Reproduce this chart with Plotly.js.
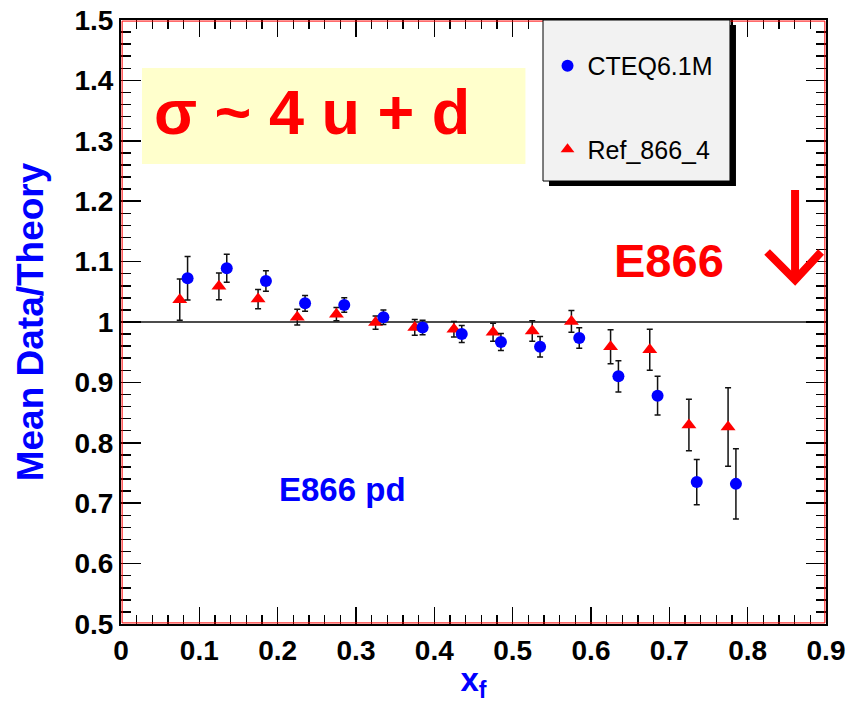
<!DOCTYPE html>
<html>
<head>
<meta charset="utf-8">
<script src="https://cdn.plot.ly/plotly-3.0.1.min.js"></script>
<style>
  html, body { margin: 0; padding: 0; background: #fff; }
  #chart { width: 846px; height: 704px; }
</style>
</head>
<body>
<div id="chart"></div>
<script>
// Mean Data/Theory ratio versus x_f for E866 pd, two PDF sets
const xCteq = [0.085, 0.135, 0.185, 0.235, 0.285, 0.335, 0.385, 0.435, 0.485, 0.535, 0.585, 0.635, 0.685, 0.735, 0.785];
const yCteq = [1.0725, 1.089, 1.068, 1.031, 1.028, 1.008, 0.991, 0.980, 0.967, 0.959, 0.9735, 0.910, 0.878, 0.735, 0.732];
const eCteq = [0.036, 0.023, 0.017, 0.013, 0.012, 0.012, 0.012, 0.014, 0.014, 0.017, 0.017, 0.026, 0.032, 0.0375, 0.058];

const xRef = [0.075, 0.125, 0.175, 0.225, 0.275, 0.325, 0.375, 0.425, 0.475, 0.525, 0.575, 0.625, 0.675, 0.725, 0.775];
const yRef = [1.037, 1.059, 1.038, 1.008, 1.013, 0.999, 0.991, 0.988, 0.983, 0.985, 1.001, 0.959, 0.954, 0.8295, 0.826];
const eRef = [0.034, 0.022, 0.016, 0.013, 0.011, 0.011, 0.013, 0.013, 0.015, 0.017, 0.018, 0.028, 0.034, 0.0425, 0.065];

const seriesNames = ['CTEQ6.1M', 'Ref_866_4'];
const xTitle = 'x<sub>f</sub>';
const yTitle = 'Mean Data/Theory';

const FONT = 'Liberation Sans, Arial, Helvetica, sans-serif';

const errStyle = { type: 'data', visible: true, color: '#111', thickness: 1.5, width: 3 };

const traces = [
  {
    x: xRef, y: yRef, name: seriesNames[1], legendgroup: 'b', legendrank: 2,
    type: 'scatter', mode: 'markers',
    marker: { symbol: 'triangle-up', size: 13, color: '#ff0000' },
    error_y: Object.assign({ array: eRef }, errStyle)
  },
  {
    x: xCteq, y: yCteq, name: seriesNames[0], legendgroup: 'a', legendrank: 1,
    type: 'scatter', mode: 'markers',
    marker: { symbol: 'circle', size: 12, color: '#0000ff' },
    error_y: Object.assign({ array: eCteq }, errStyle)
  }
];

const axisCommon = {
  ticks: 'inside', tickwidth: 1.5, tickcolor: '#000',
  mirror: 'allticks', showline: true, linecolor: '#000', linewidth: 2,
  showgrid: false, zeroline: false
};

const layout = {
  width: 846, height: 704,
  margin: { l: 121, r: 20, t: 20, b: 80 },
  paper_bgcolor: '#fff', plot_bgcolor: '#fff',
  showlegend: true,
  legend: {
    x: 0.605, xanchor: 'left', y: 0.962, yanchor: 'top',
    bgcolor: 'rgba(0,0,0,0)', borderwidth: 0,
    traceorder: 'grouped', tracegroupgap: 48,
    itemsizing: 'constant',
    font: { family: FONT, size: 25, color: '#000' }
  },
  xaxis: Object.assign({}, axisCommon, {
    range: [0, 0.9], tick0: 0, dtick: 0.1, ticklen: 17,
    tickfont: { family: FONT, size: 28, color: '#000', weight: 'bold' },
    minor: { dtick: 0.02, ticklen: 9, tickwidth: 1.5, tickcolor: '#000', ticks: 'inside' },
    title: { text: xTitle, standoff: 3, font: { family: FONT, size: 33, color: '#0000ff', weight: 'bold' } }
  }),
  yaxis: Object.assign({}, axisCommon, {
    range: [0.5, 1.5], tick0: 0.5, dtick: 0.1, ticklen: 20,
    tickfont: { family: FONT, size: 28, color: '#000', weight: 'bold' },
    minor: { dtick: 0.02, ticklen: 10, tickwidth: 1.5, tickcolor: '#000', ticks: 'inside' },
    title: { text: yTitle, standoff: 20, font: { family: FONT, size: 37, color: '#0000ff', weight: 'bold' } }
  }),
  shapes: [
    // red inner frame
    { type: 'rect', xref: 'paper', yref: 'paper', x0: 0.0016, x1: 0.9984, y0: 0.0018, y1: 0.9982,
      line: { color: '#ff0000', width: 1 }, fillcolor: 'rgba(0,0,0,0)', layer: 'above' },
    // unity reference line
    { type: 'line', xref: 'x', yref: 'y', x0: 0, x1: 0.9, y0: 1, y1: 1,
      line: { color: '#111', width: 1.5 }, layer: 'below' },
    // formula panel
    { type: 'rect', xref: 'x', yref: 'y', x0: 0.0268, x1: 0.5163, y0: 1.2616, y1: 1.4205,
      line: { width: 0 }, fillcolor: '#ffffcc', layer: 'above' },
    // legend shadow and box
    { type: 'rect', xref: 'paper', yref: 'paper', x0: 0.6071, x1: 0.8723, y0: 0.7252, y1: 0.9917,
      line: { width: 0 }, fillcolor: '#000', layer: 'above' },
    { type: 'rect', xref: 'paper', yref: 'paper', x0: 0.5986, x1: 0.8638, y0: 0.7334, y1: 1.0,
      line: { color: '#000', width: 1 }, fillcolor: '#f2f2f2', layer: 'above' },
    // downward arrow next to the E866 label
    { type: 'path', xref: 'x', yref: 'y', path: 'M 0.8605 1.2185 L 0.8605 1.075',
      line: { color: '#ff0000', width: 8 }, layer: 'above' },
    { type: 'path', xref: 'x', yref: 'y', path: 'M 0.8248 1.1159 L 0.8605 1.0695 L 0.8937 1.1159',
      line: { color: '#ff0000', width: 8 }, layer: 'above' }
  ],
  annotations: [
    { xref: 'x', yref: 'y', x: 0.2435, y: 1.348, text: 'σ ~ 4 u + d', showarrow: false,
      xanchor: 'center', yanchor: 'middle',
      font: { family: FONT, size: 63, color: '#ff0000', weight: 'bold' } },
    { xref: 'x', yref: 'y', x: 0.700, y: 1.1018, text: 'E866', showarrow: false,
      xanchor: 'center', yanchor: 'middle',
      font: { family: FONT, size: 47, color: '#ff0000', weight: 'bold' } },
    { xref: 'x', yref: 'y', x: 0.283, y: 0.7227, text: 'E866 pd', showarrow: false,
      xanchor: 'center', yanchor: 'middle',
      font: { family: FONT, size: 33, color: '#0000ff', weight: 'bold' } }
  ]
};

Plotly.newPlot('chart', traces, layout, { staticPlot: true, displayModeBar: false });
</script>
</body>
</html>
